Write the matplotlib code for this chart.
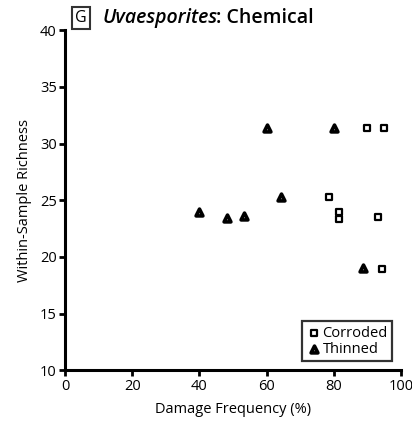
import matplotlib
matplotlib.use("Agg")
import matplotlib.pyplot as plt

plt.rcParams["font.family"] = ["Open Sans", "DejaVu Sans"]

# Damage frequency (%) vs within-sample richness
corroded_x = [90.0, 95.0, 78.7, 81.6, 81.6, 93.3, 94.4]
corroded_y = [31.4, 31.4, 25.3, 24.0, 23.3, 23.5, 18.9]
thinned_x = [60.0, 80.2, 64.2, 39.9, 48.2, 53.2, 88.7]
thinned_y = [31.4, 31.4, 25.3, 24.0, 23.4, 23.6, 19.0]

x_ticks = [0, 20, 40, 60, 80, 100]
y_ticks = [10, 15, 20, 25, 30, 35, 40]

fig = plt.figure(figsize=(4.12, 4.25), dpi=100)
ax = fig.add_axes([0.158, 0.129, 0.815, 0.80])

ax.scatter(corroded_x, corroded_y, marker="s", s=20, facecolor="white",
           edgecolor="black", linewidth=1.6, label="Corroded", zorder=3)
ax.scatter(thinned_x, thinned_y, marker="^", s=24, facecolor="white",
           edgecolor="black", linewidth=2.6, label="Thinned", zorder=3)

ax.set_xlim(0, 100)
ax.set_ylim(10, 40)
ax.set_xticks(x_ticks)
ax.set_yticks(y_ticks)
for side in ["top", "right"]:
    ax.spines[side].set_visible(False)
for side in ["left", "bottom"]:
    ax.spines[side].set_linewidth(2.2)
ax.tick_params(width=2, length=4, labelsize=10.5, pad=2)

ax.set_xlabel("Damage Frequency (%)", fontsize=10.5, labelpad=6)
ax.set_ylabel("Within-Sample Richness", fontsize=10.5, labelpad=6)

leg = ax.legend(loc="lower right", fontsize=10.5, handletextpad=0.1,
                handlelength=1.0, borderpad=0.3, labelspacing=0.1,
                fancybox=False, borderaxespad=0.6)
leg.get_frame().set_edgecolor("black")
leg.get_frame().set_linewidth(1.6)

# panel letter and title; the plain part follows the italic genus name
fig.text(0.182, 0.958, "G", fontsize=11.5, ha="left", va="center",
         bbox=dict(boxstyle="square,pad=0.2", facecolor="white",
                   edgecolor="#333333", linewidth=1.5))
genus = fig.text(0.250, 0.958, "Uvaesporites", fontsize=14, style="italic",
                 weight="semibold", ha="left", va="center")
renderer = fig.canvas.get_renderer()
bb = genus.get_window_extent(renderer).transformed(fig.transFigure.inverted())
fig.text(bb.x1 - 0.006, 0.958, ": Chemical", fontsize=14, weight="semibold",
         ha="left", va="center")

fig.savefig("out.png", dpi=100)
